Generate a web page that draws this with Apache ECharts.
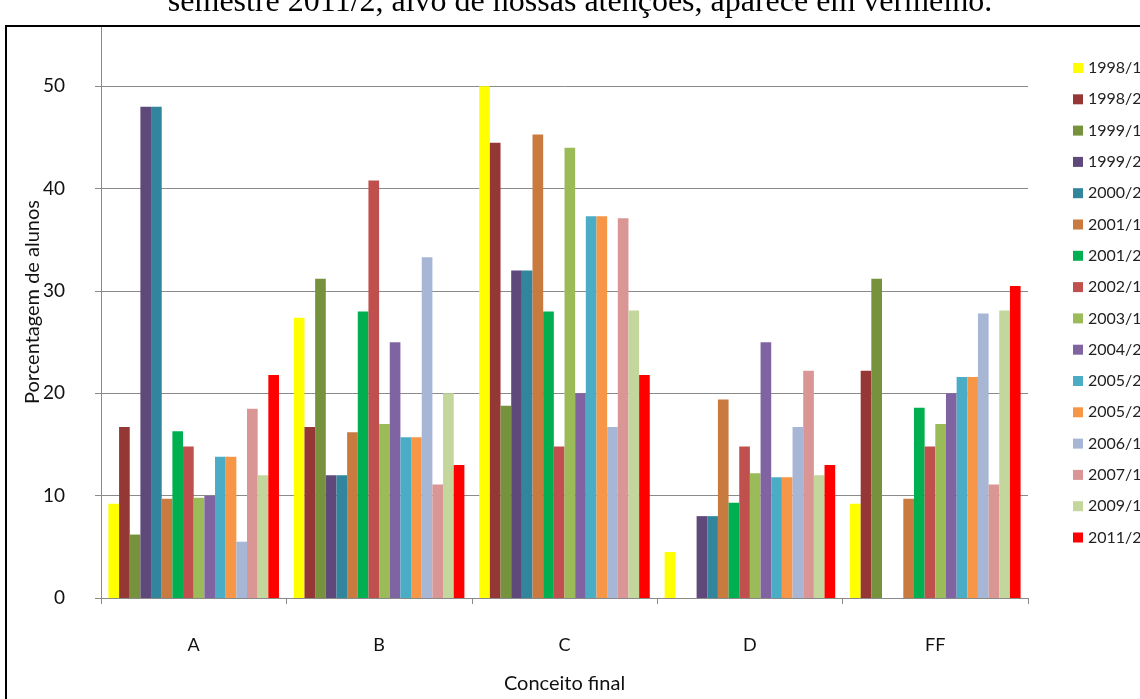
<!DOCTYPE html>
<html>
<head>
<meta charset="utf-8">
<script src="https://cdn.jsdelivr.net/npm/echarts@6/dist/echarts.min.js"></script>
<style>html,body{margin:0;padding:0;background:#fff;}#c{width:1140px;height:699px;}</style>
</head>
<body>
<div id="c"></div>
<script>
const categories = ['A', 'B', 'C', 'D', 'FF'];
const seriesNames = ['1998/1','1998/2','1999/1','1999/2','2000/2','2001/1','2001/2','2002/1','2003/1','2004/2','2005/2','2005/2 ','2006/1','2007/1','2009/1','2011/2'];
const s1998_1 = [9.2, 27.4, 50, 4.5, 9.2];
const s1998_2 = [16.7, 16.7, 44.5, 0, 22.2];
const s1999_1 = [6.2, 31.2, 18.8, 0, 31.2];
const s1999_2 = [48, 12, 32, 8, 0];
const s2000_2 = [48, 12, 32, 8, 0];
const s2001_1 = [9.7, 16.2, 45.3, 19.4, 9.7];
const s2001_2 = [16.3, 28, 28, 9.3, 18.6];
const s2002_1 = [14.8, 40.8, 14.8, 14.8, 14.8];
const s2003_1 = [9.8, 17, 44, 12.2, 17];
const s2004_2 = [10, 25, 20, 25, 20];
const s2005_2a = [13.8, 15.7, 37.3, 11.8, 21.6];
const s2005_2b = [13.8, 15.7, 37.3, 11.8, 21.6];
const s2006_1 = [5.5, 33.3, 16.7, 16.7, 27.8];
const s2007_1 = [18.5, 11.1, 37.1, 22.2, 11.1];
const s2009_1 = [12, 20, 28.1, 12, 28.1];
const s2011_2 = [21.8, 13, 21.8, 13, 30.5];
const allValues = [s1998_1, s1998_2, s1999_1, s1999_2, s2000_2, s2001_1, s2001_2, s2002_1, s2003_1, s2004_2, s2005_2a, s2005_2b, s2006_1, s2007_1, s2009_1, s2011_2];
const colors = ['#FFFF00','#953735','#76923C','#5F497A','#31859C','#C97A3E','#00B050','#C0504D','#9BBB59','#8064A2','#4BACC6','#F79646','#A6B6D4','#D99694','#C3D69B','#FF0000'];
const yTicks = [0, 10, 20, 30, 40, 50];
const titleText = 'semestre 2011/2, alvo de nossas atenções, aparece em vermelho.';

const FONT = 'Lato, "Open Sans", sans-serif';
const chart = echarts.init(document.getElementById('c'), null, {renderer: 'canvas'});
const option = {
  animation: false,
  backgroundColor: '#fff',
  color: colors,
  grid: {left: 101, right: 112, top: 26, bottom: 95},
  legend: {
    orient: 'vertical', left: 1068, top: 55,
    itemWidth: 10, itemHeight: 10, itemGap: 15.3,
    icon: 'rect',
    textStyle: {fontFamily: FONT, fontSize: 16, color: '#222'},
    data: seriesNames
  },
  xAxis: {
    type: 'category', data: categories,
    axisLine: {lineStyle: {color: '#8a8a8a', width: 1}},
    axisTick: {show: true, length: 6, lineStyle: {color: '#8a8a8a'}},
    axisLabel: {fontFamily: FONT, fontSize: 18, color: '#111', margin: 38},
    name: 'Conceito final', nameLocation: 'middle', nameGap: 76, nameMoveOverlap: false,
    nameTextStyle: {fontFamily: FONT, fontSize: 20, color: '#111'}
  },
  yAxis: {
    type: 'value', min: 0, max: 55.9, interval: 10,
    axisLine: {show: true, lineStyle: {color: '#8a8a8a', width: 1}},
    axisTick: {show: true, length: 6, lineStyle: {color: '#8a8a8a'}},
    axisLabel: {fontFamily: FONT, fontSize: 19, color: '#111', margin: 36, showMaxLabel: false,
      formatter: v => yTicks.includes(v) ? String(v) : ''},
    splitLine: {show: true, lineStyle: {color: '#8a8a8a', width: 1}},
    name: 'Porcentagem de alunos', nameLocation: 'middle', nameGap: 58, nameMoveOverlap: false,
    nameTextStyle: {fontFamily: FONT, fontSize: 20, color: '#111', padding: [0, 0, 0, 20]}
  },
  series: seriesNames.map((n, i) => ({
    name: n, type: 'bar', data: allValues[i],
    barGap: '0%', barCategoryGap: '8%',
    itemStyle: {color: colors[i]}
  })),
  graphic: [
    {type: 'rect', z: 100, silent: true,
     shape: {x: 6, y: 26, width: 1300, height: 900},
     style: {fill: 'none', stroke: '#000', lineWidth: 2}},
    {type: 'text', z: 100, silent: true, x: 580, y: 19,
     style: {text: titleText, font: '32px "Liberation Serif", serif', fill: '#000', align: 'center', verticalAlign: 'bottom'}}
  ]
};
chart.setOption(option);
</script>
</body>
</html>
